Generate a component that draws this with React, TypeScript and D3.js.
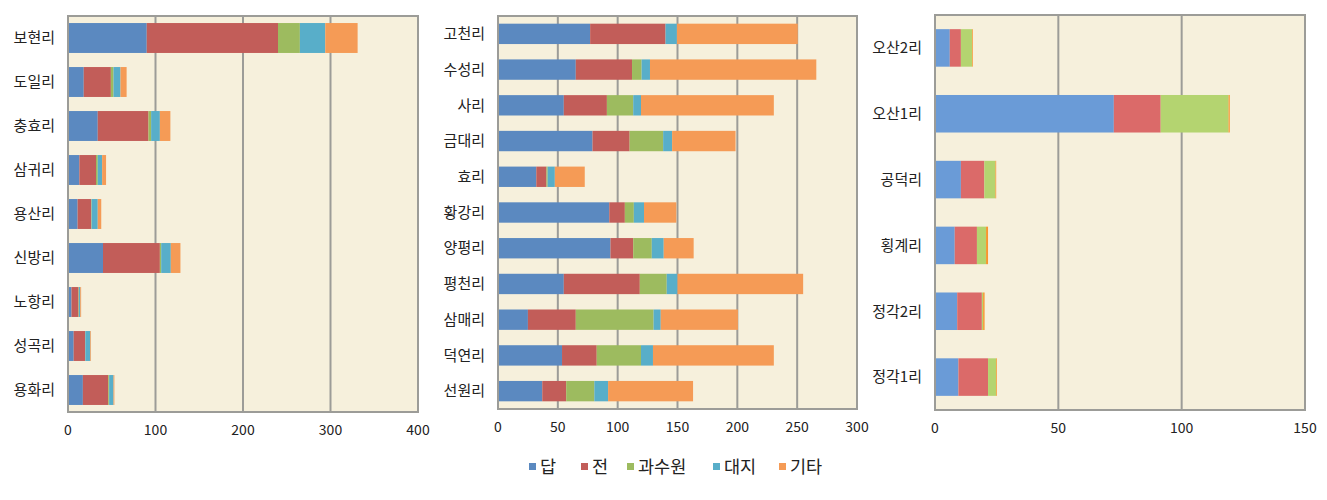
import React from "react";
import * as d3 from "d3";

const seriesNames = ["답", "전", "과수원", "대지", "기타"];
const colorsA = ["#5B89C0", "#C25D59", "#9DBB5F", "#58AEC9", "#F59B56"];
const colorsB = ["#6A9BD7", "#DB6A69", "#B4D470", "#58AEC9", "#F7962F"];

// Panel 1
const cats1 = ["보현리", "도일리", "충효리", "삼귀리", "용산리", "신방리", "노항리", "성곡리", "용화리"];
const dap1 = [90, 18, 34, 13, 11, 40, 4, 6.5, 17];
const jeon1 = [150, 31, 58, 19, 15.5, 65, 8, 13, 29];
const orch1 = [25, 3, 3, 2, 0.5, 1.5, 0.5, 0.3, 1];
const site1 = [29, 8, 10, 5, 7, 11, 1.5, 5.7, 5];
const etc1 = [37, 7, 12, 4.5, 4, 11, 1, 0.8, 1];
const ticks1 = [0, 100, 200, 300, 400];

// Panel 2
const cats2 = ["고천리", "수성리", "사리", "금대리", "효리", "황강리", "양평리", "평천리", "삼매리", "덕연리", "선원리"];
const dap2 = [77, 65, 55, 79, 32, 93, 94, 55, 25, 53.5, 37];
const jeon2 = [63, 47, 36, 31, 8.5, 13, 19, 63.5, 40, 29, 20];
const orch2 = [0, 8, 22, 28, 1, 7.5, 15.5, 22.5, 65, 37, 23.5];
const site2 = [9.5, 7, 6.5, 7.5, 6, 8.5, 10, 9, 6, 10, 11.5];
const etc2 = [101, 139, 111, 53, 25, 27, 25, 105, 64.5, 101, 71];
const ticks2 = [0, 50, 100, 150, 200, 250, 300];

// Panel 3
const cats3 = ["오산2리", "오산1리", "공덕리", "횡계리", "정각2리", "정각1리"];
const dap3 = [6, 72.5, 10.5, 8, 9, 9.5];
const jeon3 = [4.5, 19, 9.5, 9, 10, 12];
const orch3 = [4.5, 27.5, 4.5, 3.7, 0.5, 3.3];
const site3 = [0, 0, 0, 0, 0, 0];
const etc3 = [0.3, 0.5, 0.3, 0.8, 0.6, 0.3];
const ticks3 = [0, 50, 100, 150];

const FONT = "'Noto Sans CJK KR', 'Noto Sans', sans-serif";
const BG = "#F6F0DC";
const GRID = "#9C9C98";

type PanelProps = {
  cats: string[];
  series: number[][];
  ticks: number[];
  colors: string[];
  x0: number;
  x1: number;
  y0: number;
  y1: number;
  pad: number;
};

function Panel({ cats, series, ticks, colors, x0, x1, y0, y1, pad }: PanelProps) {
  const x = d3.scaleLinear().domain([ticks[0], ticks[ticks.length - 1]]).range([x0, x1]);
  const y = d3.scaleBand<string>().domain(cats).range([y0, y1]).paddingInner(pad).paddingOuter(pad / 2);
  const rows = cats.map((c, i) => {
    const obj: any = { cat: c };
    series.forEach((s, k) => (obj["s" + k] = s[i]));
    return obj;
  });
  const keys = series.map((_, k) => "s" + k);
  const stacked = d3.stack<any>().keys(keys)(rows);
  return (
    <g>
      <rect x={x0} y={y0} width={x1 - x0} height={y1 - y0} fill={BG} />
      {ticks.slice(1, -1).map((t) => (
        <line key={t} x1={x(t)} x2={x(t)} y1={y0} y2={y1} stroke={GRID} strokeWidth={2} />
      ))}
      {stacked.map((layer, k) => (
        <g key={k} fill={colors[k]}>
          {layer.map((d, i) => {
            const w = x(d[1]) - x(d[0]);
            if (w <= 0) return null;
            return (
              <rect key={i} x={x(d[0])} y={y(cats[i])!} width={w} height={y.bandwidth()} />
            );
          })}
        </g>
      ))}
      <rect x={x0} y={y0} width={x1 - x0} height={y1 - y0} fill="none" stroke={GRID} strokeWidth={2} />
      {ticks.map((t) => (
        <text key={t} x={x(t)} y={y1 + 23} textAnchor="middle" fontSize={14} fill="#222" fontFamily={FONT}>
          {t}
        </text>
      ))}
      {cats.map((c) => (
        <text
          key={c}
          x={x0 - 13}
          y={y(c)! + y.bandwidth() / 2}
          dy="0.35em"
          textAnchor="end"
          fontSize={15}
          fill="#222"
          fontFamily={FONT}
        >
          {c}
        </text>
      ))}
    </g>
  );
}

export default function App() {
  const legendStarts = [529, 581, 627, 713, 779];
  return (
    <svg width={1327} height={500} style={{ position: "absolute", left: 0, top: 0, background: "#fff" }}>
      <Panel
        cats={cats1}
        series={[dap1, jeon1, orch1, site1, etc1]}
        ticks={ticks1}
        colors={colorsA}
        x0={68}
        x1={418}
        y0={16}
        y1={412}
        pad={0.32}
      />
      <Panel
        cats={cats2}
        series={[dap2, jeon2, orch2, site2, etc2]}
        ticks={ticks2}
        colors={colorsA}
        x0={498}
        x1={857}
        y0={16}
        y1={409}
        pad={0.43}
      />
      <Panel
        cats={cats3}
        series={[dap3, jeon3, orch3, site3, etc3]}
        ticks={ticks3}
        colors={colorsB}
        x0={935}
        x1={1305}
        y0={15}
        y1={410}
        pad={0.43}
      />
      {seriesNames.map((n, i) => (
        <g key={n}>
          <rect x={legendStarts[i]} y={463} width={7} height={7} fill={colorsA[i]} />
          <text x={legendStarts[i] + 11} y={467} dy="0.36em" fontSize={17.5} fill="#222" fontFamily={FONT}>
            {n}
          </text>
        </g>
      ))}
    </svg>
  );
}
